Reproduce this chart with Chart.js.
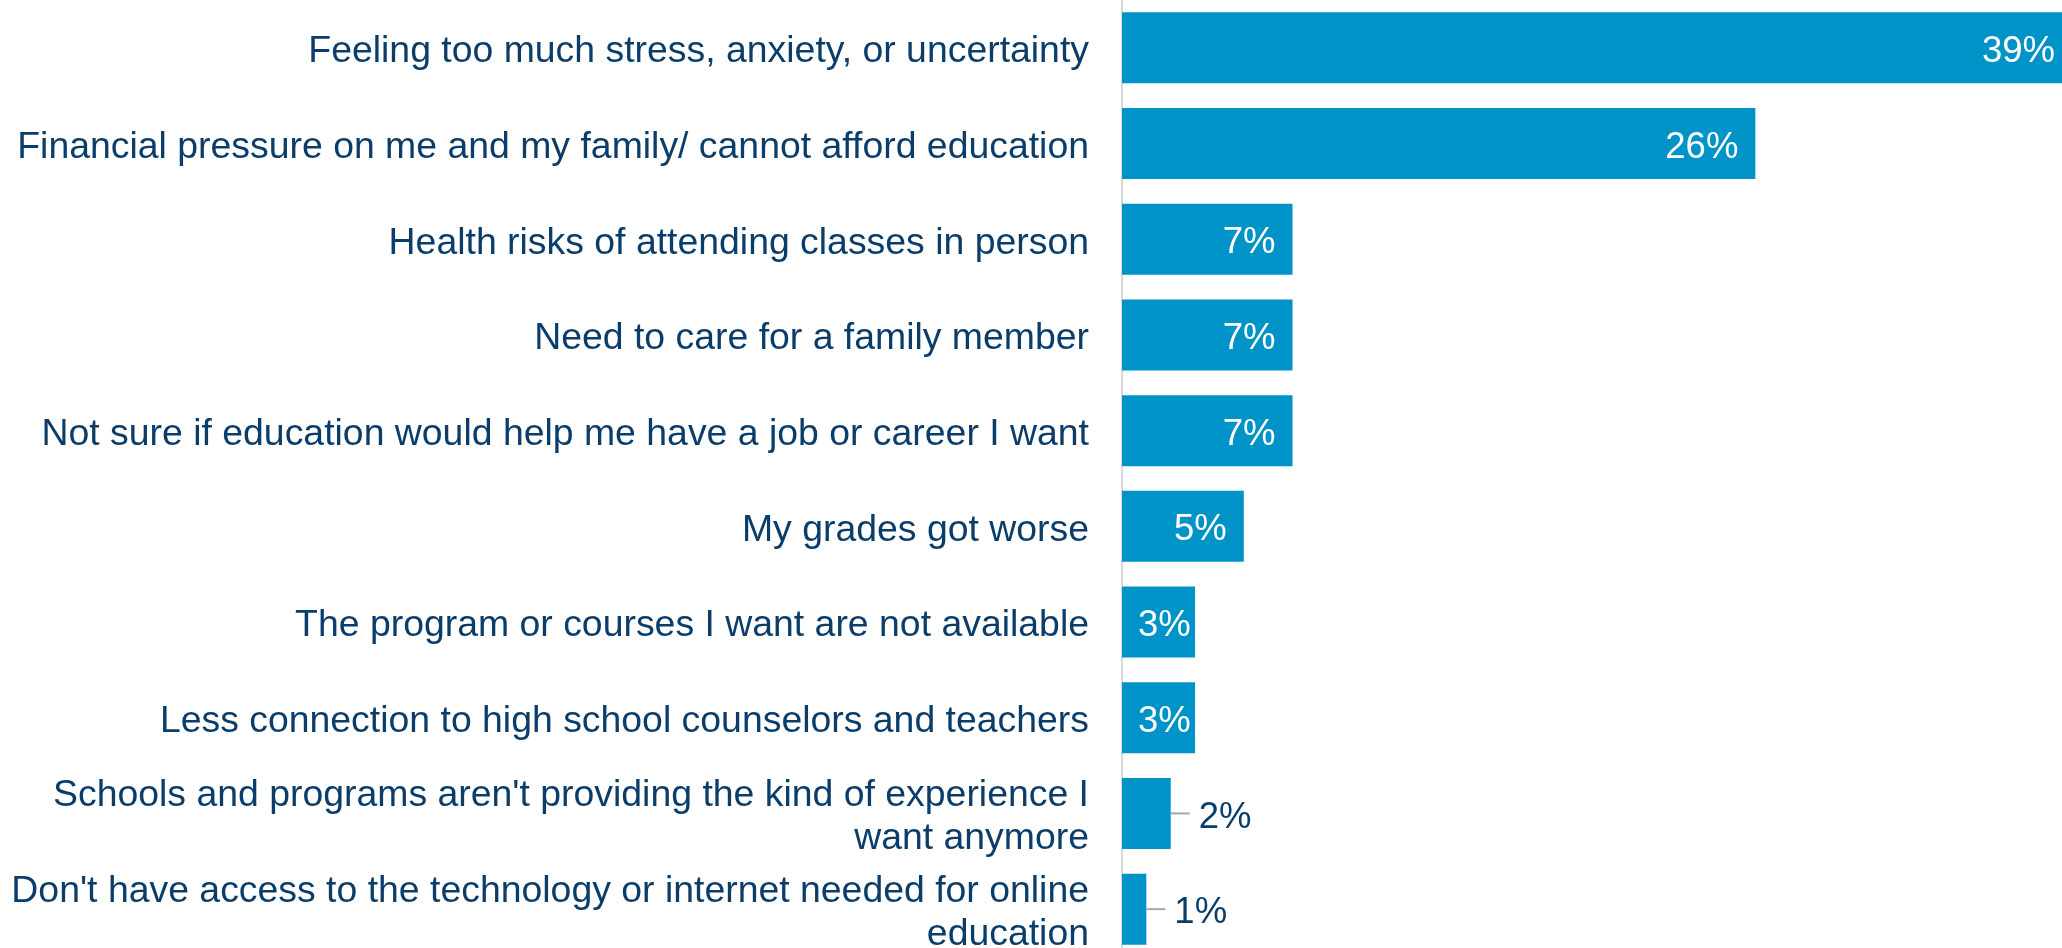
<!DOCTYPE html>
<html>
<head>
<meta charset="utf-8">
<title>Reasons for not enrolling</title>
<script src="https://cdn.jsdelivr.net/npm/chart.js@4/dist/chart.umd.min.js"></script>
<style>
  html, body { margin: 0; padding: 0; background: #ffffff; overflow: hidden; }
  #wrap { position: absolute; left: 0; top: 0; width: 2072px; height: 957px; }
</style>
</head>
<body>
<div id="wrap"><canvas id="chart" width="2072" height="957"></canvas></div>
<script>
// Survey reasons (multi-line entries wrap the same way as the axis labels)
const reasons = [
  ["Feeling too much stress, anxiety, or uncertainty"],
  ["Financial pressure on me and my family/ cannot afford education"],
  ["Health risks of attending classes in person"],
  ["Need to care for a family member"],
  ["Not sure if education would help me have a job or career I want"],
  ["My grades got worse"],
  ["The program or courses I want are not available"],
  ["Less connection to high school counselors and teachers"],
  ["Schools and programs aren't providing the kind of experience I", "want anymore"],
  ["Don't have access to the technology or internet needed for online", "education"]
];

// Share of respondents, in percent
const shares = [39, 26, 7, 7, 7, 5, 3, 3, 2, 1];

const BAR_COLOR = '#0093C8';
const TEXT_COLOR = '#0B3D6B';
const FONT = "'Liberation Sans', Arial, sans-serif";

// Value labels: white inside the bar end when there is room, otherwise
// navy outside with a short grey leader line.
const valueLabels = {
  id: 'valueLabels',
  afterDatasetsDraw(chart) {
    const ctx = chart.ctx;
    const meta = chart.getDatasetMeta(0);
    const values = chart.data.datasets[0].data;
    ctx.save();
    ctx.font = '36.5px ' + FONT;
    ctx.textBaseline = 'middle';
    ctx.textAlign = 'left';
    meta.data.forEach((bar, i) => {
      const v = values[i];
      const text = v + '%';
      const w = ctx.measureText(text).width;
      const end = bar.x;
      const start = bar.base;
      const y = bar.y + 4;
      if (v >= 3) {
        let left = end - 17 - w;
        if (left < start + 16) left = start + 16;
        ctx.fillStyle = '#ffffff';
        ctx.fillText(text, left, y);
      } else {
        const left = end + 28;
        ctx.strokeStyle = '#A6A6A6';
        ctx.lineWidth = 2;
        ctx.beginPath();
        ctx.moveTo(end, bar.y);
        ctx.lineTo(left - 9, bar.y);
        ctx.stroke();
        ctx.fillStyle = TEXT_COLOR;
        ctx.fillText(text, left, y);
      }
    });
    ctx.restore();
  }
};

new Chart(document.getElementById('chart'), {
  type: 'bar',
  data: {
    labels: reasons,
    datasets: [{
      data: shares,
      backgroundColor: BAR_COLOR,
      borderWidth: 0,
      categoryPercentage: 1.0,
      barPercentage: 0.742
    }]
  },
  options: {
    indexAxis: 'y',
    responsive: false,
    animation: false,
    devicePixelRatio: 1,
    layout: { padding: 0 },
    plugins: {
      legend: { display: false },
      tooltip: { enabled: false }
    },
    scales: {
      x: {
        display: false,
        min: 0,
        max: 39
      },
      y: {
        grid: { display: false, drawTicks: false },
        border: { display: true, color: '#D9D9D9', width: 2 },
        ticks: {
          color: TEXT_COLOR,
          font: { family: FONT, size: 37.4, lineHeight: 1.15 },
          padding: 33,
          labelOffset: 4,
          crossAlign: 'near',
          autoSkip: false
        },
        afterFit(scale) {
          scale.width = 1122;
          scale.paddingTop = 0;
          scale.paddingBottom = 0;
        }
      }
    }
  },
  plugins: [valueLabels]
});
</script>
</body>
</html>
